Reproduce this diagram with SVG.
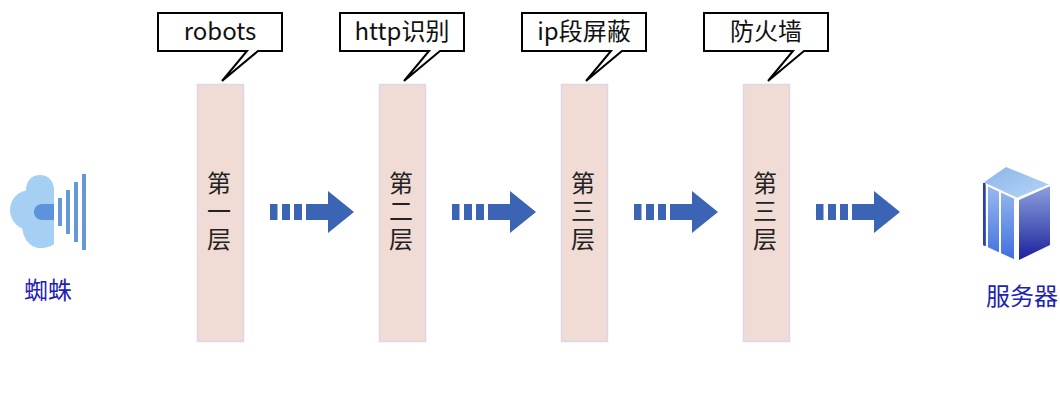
<svg xmlns="http://www.w3.org/2000/svg" xmlns:xlink="http://www.w3.org/1999/xlink" width="1060" height="400" viewBox="0 0 1060 400">
<style>
text{font-family:"Noto Sans CJK SC","Liberation Sans",sans-serif}
.bar{fill:#f0dbd5;stroke:#dcd6e8;stroke-width:1.500}
.lbl{font-size:24px;fill:#222;writing-mode:vertical-rl;text-orientation:upright;letter-spacing:4px}
.call{fill:#fff;stroke:#000;stroke-width:2}
.ctext{font-size:24px;fill:#111;text-anchor:middle}
.blue{font-size:24px;fill:#1c22b4;text-anchor:middle}
.ar{fill:#3c64b4}
</style>
<defs>
<linearGradient id="gt" x1="0" y1="0" x2="1" y2="1"><stop offset="0" stop-color="#8db4e8"/><stop offset="1" stop-color="#b5d6f6"/></linearGradient>
<linearGradient id="gl" x1="0" y1="0" x2="0" y2="1"><stop offset="0" stop-color="#9cbdef"/><stop offset="1" stop-color="#3f6fe0"/></linearGradient>
<linearGradient id="gr" x1="0" y1="0" x2="0" y2="1"><stop offset="0" stop-color="#8c9fdc"/><stop offset="0.5" stop-color="#5563bd"/><stop offset="1" stop-color="#1c1f9c"/></linearGradient>
<g id="arrow"><rect class="ar" x="270" y="204" width="7.500" height="16"/><rect class="ar" x="282" y="204" width="8" height="16"/><rect class="ar" x="294" y="204" width="8" height="16"/><path class="ar" d="M306 204H328V191L354 212L328 233V220H306Z"/></g>
</defs>
<g id="connectors">
<use xlink:href="#arrow" href="#arrow"/>
<use xlink:href="#arrow" href="#arrow" x="182"/>
<use xlink:href="#arrow" href="#arrow" x="364"/>
<use xlink:href="#arrow" href="#arrow" x="546"/>
</g>
<g id="layer1"><rect class="bar" x="197.500" y="84.500" width="46" height="257"/><text class="lbl" x="219" y="171">第一层</text></g>
<g id="layer2"><rect class="bar" x="379.500" y="84.500" width="46" height="257"/><text class="lbl" x="401" y="171">第二层</text></g>
<g id="layer3"><rect class="bar" x="561.500" y="84.500" width="46" height="257"/><text class="lbl" x="583" y="171">第三层</text></g>
<g id="layer4"><rect class="bar" x="743.500" y="84.500" width="46" height="257"/><text class="lbl" x="765" y="171">第三层</text></g>
<g id="callout1"><path class="call" d="M158 13H282V51H258L222 81L247 51H158Z"/><text class="ctext" x="220" y="40">robots</text></g>
<g id="callout2"><path class="call" d="M340 13H464V51H440L404 81L429 51H340Z"/><text class="ctext" x="402" y="40">http识别</text></g>
<g id="callout3"><path class="call" d="M522 13H646V51H622L586 81L611 51H522Z"/><text class="ctext" x="584" y="40">ip段屏蔽</text></g>
<g id="callout4"><path class="call" d="M704 13H828V51H804L768 81L793 51H704Z"/><text class="ctext" x="766" y="40">防火墙</text></g>
<g id="spider">
<g fill="#a6d0f3"><path d="M54 190C54 181 48 175 40 175C32 175 26 181 26 190V232H54Z"/><circle cx="30" cy="210" r="20"/><path d="M22 225C22 238 30 248 40 248C47 248 52 246 54 244V220H22Z"/></g>
<path fill="#5c93dc" d="M54 204H42C37 204 34 208 34 212C34 216 37 220 42 220H54Z"/>
<g fill="#6498d6"><rect x="58" y="198" width="4" height="28"/><rect x="66" y="190" width="4" height="44"/><rect x="74" y="182" width="4" height="60"/><rect x="82" y="174" width="4" height="76"/></g>
<text class="blue" x="48" y="299">蜘蛛</text>
</g>
<g id="server">
<path fill="url(#gt)" d="M1006 167L1050 185L1017 198L983 183Z"/>
<path fill="url(#gl)" d="M983 183L1016 199V260L983 245Z"/>
<path fill="url(#gr)" d="M1019 200L1050 186V245L1019 260Z"/>
<g stroke="#fff" stroke-width="2" fill="none"><path d="M987 185V247"/><path d="M1000 191V254"/><path d="M1015 198V260"/><path d="M983 183L1017 199L1050 185"/></g>
<path fill="#2c3fa8" d="M983 183H985.500V246L983 245Z"/>
<text class="blue" x="1022" y="305">服务器</text>
</g>
</svg>
